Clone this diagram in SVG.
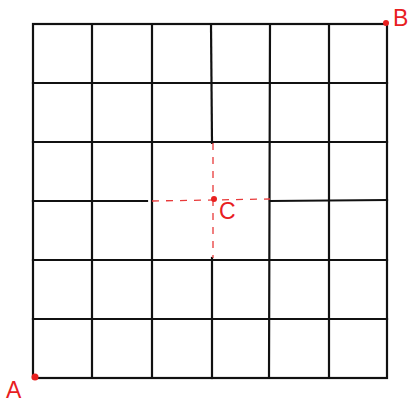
<svg xmlns="http://www.w3.org/2000/svg" width="412" height="406" viewBox="0 0 412 406">
<style>
.g{stroke:#111;stroke-width:2.2;fill:none;stroke-linecap:square}
.d{stroke:#e83a3a;stroke-width:1.3;fill:none;stroke-dasharray:7 7}
.p{fill:#e8201f}
.t{fill:#e8201f;font-family:"Liberation Sans",Arial,sans-serif;font-size:23px}
</style>
<rect width="412" height="406" fill="#fff"/>
<g id="grid" class="g">
<rect x="33" y="24" width="354" height="354"/>
<line x1="92" y1="24" x2="92" y2="378"/>
<line x1="152" y1="26" x2="152" y2="378"/>
<line x1="211" y1="24" x2="212" y2="143"/>
<line x1="212" y1="258" x2="212" y2="378"/>
<line x1="270" y1="24" x2="269" y2="378"/>
<line x1="329" y1="24" x2="329" y2="378"/>
<line x1="33" y1="83" x2="387" y2="83"/>
<line x1="33" y1="142" x2="387" y2="142"/>
<line x1="33" y1="201" x2="147" y2="201"/>
<line x1="270" y1="201" x2="387" y2="200"/>
<line x1="33" y1="260" x2="387" y2="260"/>
<line x1="33" y1="319" x2="387" y2="319"/>
</g>
<g id="connectors">
<line class="d" x1="152" y1="201" x2="270" y2="199"/>
<line class="d" x1="213" y1="143" x2="213" y2="258"/>
</g>
<g id="A"><circle class="p" cx="35" cy="377" r="3.5"/><text class="t" x="6" y="398">A</text></g>
<g id="B"><circle class="p" cx="386" cy="23" r="3"/><text class="t" x="393" y="26">B</text></g>
<g id="C"><circle class="p" cx="214" cy="199" r="3"/><text class="t" x="219" y="219">C</text></g>
</svg>
